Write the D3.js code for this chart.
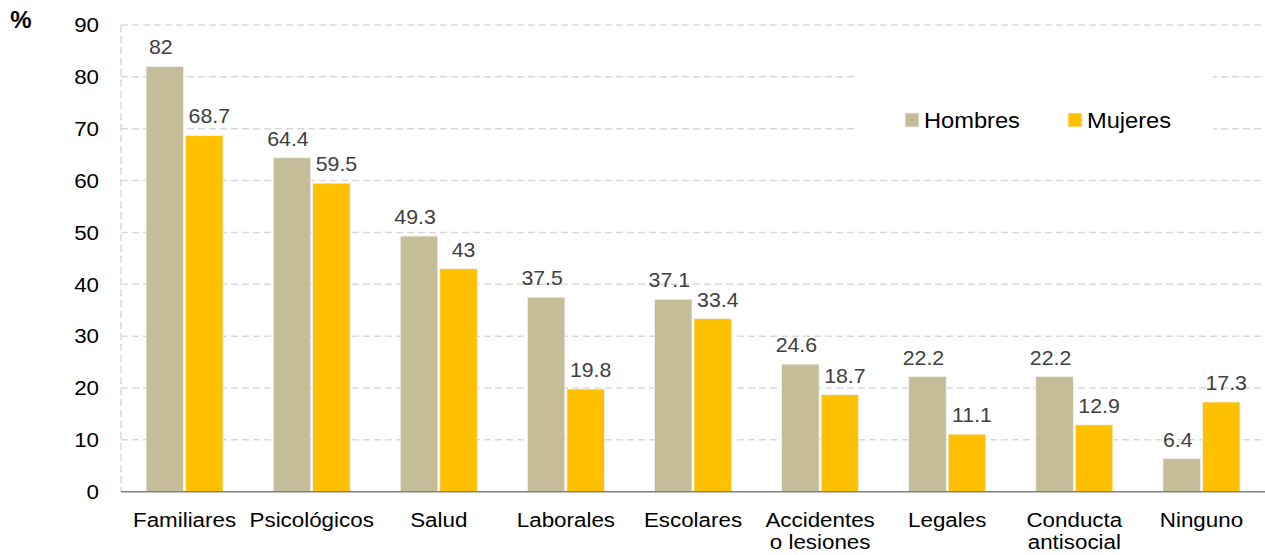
<!DOCTYPE html>
<html>
<head>
<meta charset="utf-8">
<script src="https://cdn.jsdelivr.net/npm/d3@7"></script>
<style>
  html, body { margin: 0; padding: 0; background: #fff; }
  svg { display: block; font-family: "Liberation Sans", Arial, sans-serif; }
</style>
</head>
<body>
<svg id="chart" width="1265" height="555"></svg>
<script>
const categories = [
  ["Familiares"], ["Psicológicos"], ["Salud"], ["Laborales"], ["Escolares"],
  ["Accidentes", "o lesiones"], ["Legales"], ["Conducta", "antisocial"], ["Ninguno"]
];
const hombres = [82, 64.4, 49.3, 37.5, 37.1, 24.6, 22.2, 22.2, 6.4];
const mujeres = [68.7, 59.5, 43, 19.8, 33.4, 18.7, 11.1, 12.9, 17.3];
const seriesNames = ["Hombres", "Mujeres"];
const yTicks = [0, 10, 20, 30, 40, 50, 60, 70, 80, 90];

(function () {
const colors = { Hombres: "#C4BD97", Mujeres: "#FFC000" };
const labelDx = { Hombres: -4, Mujeres: 5 };

const svg = d3.select("#chart");
const pLeft = 121, pRight = 1265, pTop = 25, pBottom = 491.7;

const catKeys = categories.map(c => c.join(" "));
const x0 = d3.scaleBand().domain(catKeys).range([pLeft, pRight])
  .paddingInner(0.394).paddingOuter(0.197);
const x1 = d3.scaleBand().domain(seriesNames).range([0, x0.bandwidth()]).paddingInner(0.05);
const y = d3.scaleLinear().domain([0, 90]).range([pBottom, pTop]);

const fontSize = 21;
const sx = 1.065;

// gridlines
const grid = svg.append("g");
grid.selectAll("line.h").data(yTicks.filter(t => t > 0)).join("line")
  .attr("x1", pLeft).attr("x2", pRight)
  .attr("y1", d => y(d)).attr("y2", d => y(d))
  .attr("stroke", "#D9D9D9").attr("stroke-width", 1.5)
  .attr("stroke-dasharray", "7,4");
grid.append("line")
  .attr("x1", pLeft).attr("x2", pLeft).attr("y1", pTop).attr("y2", pBottom)
  .attr("stroke", "#D9D9D9").attr("stroke-width", 1.5)
  .attr("stroke-dasharray", "7,4");

// legend background
svg.append("rect").attr("x", 857).attr("y", 68).attr("width", 356).attr("height", 95)
  .attr("fill", "#fff");

// y axis labels via d3 axis
const yAxis = svg.append("g").attr("transform", `translate(${pLeft},0)`)
  .call(d3.axisLeft(y).tickValues(yTicks).tickSize(0).tickPadding(22).tickFormat(d3.format("d")));
yAxis.select(".domain").remove();
yAxis.selectAll("text").attr("font-size", fontSize).attr("fill", "#000")
  .attr("x", -22 / sx)
  .attr("transform", `scale(${sx},1)`)
  .attr("font-family", "Liberation Sans, Arial, sans-serif");

// bars
const data = catKeys.map((k, i) => ({ key: k, values: [
  { name: "Hombres", v: hombres[i] }, { name: "Mujeres", v: mujeres[i] }
]}));
const groups = svg.append("g").selectAll("g").data(data).join("g")
  .attr("transform", d => `translate(${x0(d.key)},0)`);
groups.selectAll("rect").data(d => d.values).join("rect")
  .attr("x", d => x1(d.name)).attr("width", x1.bandwidth())
  .attr("y", d => y(d.v)).attr("height", d => y(0) - y(d.v))
  .attr("fill", d => colors[d.name])
  .attr("stroke", "#F2F2F2").attr("stroke-width", 0.8);
groups.selectAll("text").data(d => d.values).join("text")
  .attr("transform", d => `translate(${x1(d.name) + x1.bandwidth() / 2 + labelDx[d.name]},${y(d.v) - 12}) scale(${sx},1)`)
  .attr("text-anchor", "middle").attr("font-size", fontSize - 1).attr("fill", "#404040")
  .text(d => String(d.v));

// x axis baseline
svg.append("line").attr("x1", pLeft).attr("x2", pRight).attr("y1", pBottom).attr("y2", pBottom)
  .attr("stroke", "#808080").attr("stroke-width", 1.5);

// x labels
const xl = svg.append("g").selectAll("text").data(categories).join("text")
  .attr("transform", (d, i) => `translate(${x0(catKeys[i]) + x0.bandwidth() / 2},527) scale(${sx},1)`)
  .attr("text-anchor", "middle").attr("font-size", fontSize).attr("fill", "#000");
xl.selectAll("tspan").data(d => d).join("tspan")
  .attr("x", 0)
  .attr("dy", (d, i) => i === 0 ? 0 : 22)
  .text(d => d);

// % label
svg.append("text").attr("x", 21).attr("y", 28).attr("text-anchor", "middle")
  .attr("font-size", 24).attr("font-weight", "bold").attr("fill", "#000").text("%");

// legend
const legend = svg.append("g");
const legX = [905, 1068];
seriesNames.forEach((s, i) => {
  legend.append("rect").attr("x", legX[i]).attr("y", 113).attr("width", 14).attr("height", 14)
    .attr("fill", colors[s]).attr("stroke", "#F2F2F2").attr("stroke-width", 0.8);
  legend.append("text")
    .attr("transform", `translate(${legX[i] + 19},127.5) scale(1.1,1)`)
    .attr("font-size", fontSize + 0.5).attr("fill", "#000").text(s);
});
})();
</script>
</body>
</html>
